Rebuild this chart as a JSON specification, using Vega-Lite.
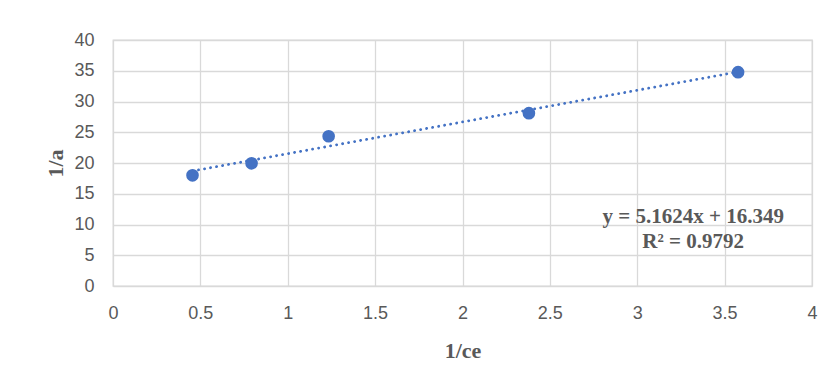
{
  "$schema": "https://vega.github.io/schema/vega-lite/v6.json",
  "width": 699,
  "height": 246,
  "autosize": {"type": "none"},
  "padding": {"left": 113, "top": 40, "right": 19, "bottom": 97},
  "background": "white",
  "config": {
    "view": {"stroke": "#d9d9d9", "strokeWidth": 1.3},
    "axis": {
      "gridColor": "#d9d9d9",
      "gridWidth": 1.3,
      "domain": false,
      "ticks": false,
      "labelOverlap": false,
      "labelFlush": false,
      "labelColor": "#595959",
      "labelFont": "Liberation Sans",
      "labelFontSize": 18,
      "titleColor": "#595959",
      "titleFont": "Liberation Serif",
      "titleFontWeight": "bold",
      "titleFontSize": 22
    }
  },
  "datasets": {
    "points": [
      {"ce": 0.455, "a": 18.0},
      {"ce": 0.793, "a": 19.95},
      {"ce": 1.234, "a": 24.35},
      {"ce": 2.38, "a": 28.1},
      {"ce": 3.577, "a": 34.77}
    ],
    "trend": [
      {"ce": 0.455, "a": 18.70},
      {"ce": 3.577, "a": 34.81}
    ],
    "label": [
      {"ce": 3.32, "a": 11.3, "text": "y = 5.1624x + 16.349"},
      {"ce": 3.32, "a": 7.2, "text": "R² = 0.9792"}
    ]
  },
  "encoding": {
    "x": {"field": "ce", "type": "quantitative", "scale": {"domain": [0, 4], "nice": false},
      "axis": {"values": [0, 0.5, 1, 1.5, 2, 2.5, 3, 3.5, 4], "format": "~g", "labelPadding": 18, "title": "1/ce", "titlePadding": 18}},
    "y": {"field": "a", "type": "quantitative", "scale": {"domain": [0, 40], "nice": false},
      "axis": {"values": [0, 5, 10, 15, 20, 25, 30, 35, 40], "format": "~g", "labelPadding": 19, "title": "1/a", "titlePadding": 6}}
  },
  "layer": [
    {
      "data": {"name": "trend"},
      "mark": {"type": "line", "color": "#4472C4", "strokeWidth": 2.8, "strokeDash": [0.1, 6], "strokeCap": "round"}
    },
    {
      "data": {"name": "points"},
      "mark": {"type": "circle", "color": "#4472C4", "size": 160, "opacity": 1}
    },
    {
      "data": {"name": "label"},
      "mark": {"type": "text", "font": "Liberation Serif", "fontWeight": "bold", "fontSize": 21, "color": "#595959", "align": "center", "baseline": "middle"},
      "encoding": {
        "text": {"field": "text"}
      }
    }
  ]
}
